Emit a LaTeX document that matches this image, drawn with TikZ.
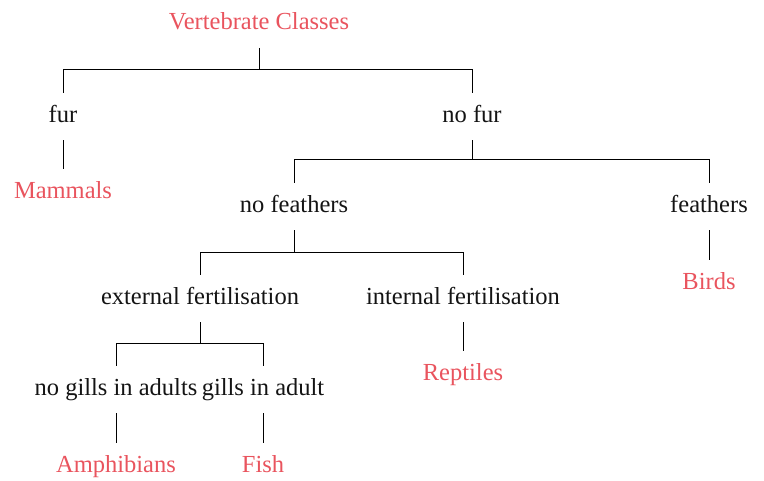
\documentclass[tikz,border=0pt]{standalone}
\usepackage{fontspec}
\setmainfont{Liberation Serif}
\definecolor{classred}{RGB}{233,84,94}
\definecolor{txtblack}{RGB}{20,20,20}
\tikzset{
  tnode/.style={anchor=north, font=\fontsize{24.5}{29}\selectfont, text=txtblack,
    text height=16pt, text depth=5pt, inner xsep=1pt, inner ysep=13pt},
  cnode/.style={tnode, text=classred},
  edge/.style={draw=black, line width=1pt}
}
\begin{document}
\begin{tikzpicture}[x=1pt,y=-1pt]
\useasboundingbox (0,0) rectangle (764,481);
\node[cnode] (root) at (259,0.5) {Vertebrate Classes};
\node[tnode] (fur) at (63,93) {fur};
\node[tnode] (nofur) at (472,93) {no fur};
\node[cnode] (mammals) at (63,169) {Mammals};
\node[tnode] (nofeathers) at (294,183) {no feathers};
\node[tnode] (feathers) at (709,183) {feathers};
\node[cnode] (birds) at (709,260) {Birds};
\node[tnode] (ext) at (200,275) {external fertilisation};
\node[tnode] (int) at (463,275) {internal fertilisation};
\node[cnode] (reptiles) at (463,351) {Reptiles};
\node[tnode] (nogills) at (116,366) {no gills in adults};
\node[tnode] (gills) at (263,366) {gills in adult};
\node[cnode] (amph) at (116,443) {Amphibians};
\node[cnode] (fish) at (263,443) {Fish};

\coordinate (j1) at (259,70);
\coordinate (j2) at (472,160);
\coordinate (j3) at (294,253);
\coordinate (j4) at (200,344);

\draw[edge] (root.south) -- (j1) -| (fur.north);
\draw[edge] (j1) -| (nofur.north);
\draw[edge] (fur.south) -- (mammals.north);
\draw[edge] (nofur.south) -- (j2) -| (nofeathers.north);
\draw[edge] (j2) -| (feathers.north);
\draw[edge] (feathers.south) -- (birds.north);
\draw[edge] (nofeathers.south) -- (j3) -| (ext.north);
\draw[edge] (j3) -| (int.north);
\draw[edge] (int.south) -- (reptiles.north);
\draw[edge] (ext.south) -- (j4) -| (nogills.north);
\draw[edge] (j4) -| (gills.north);
\draw[edge] (nogills.south) -- (amph.north);
\draw[edge] (gills.south) -- (fish.north);
\end{tikzpicture}
\end{document}
